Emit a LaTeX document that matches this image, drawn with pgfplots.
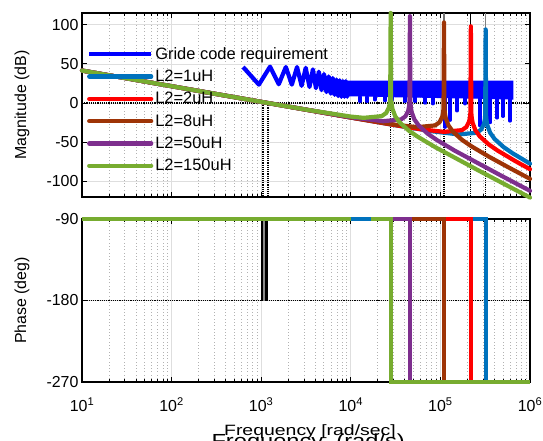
\documentclass[border=0pt]{standalone}
\usepackage{graphicx}
\usepackage{pgfplots}
\pgfplotsset{compat=1.18}
\usepackage{fontspec}
\setmainfont{Liberation Sans}
\definecolor{gcblue}{RGB}{0,0,255}
\definecolor{cA}{RGB}{0,114,189}
\definecolor{cB}{RGB}{255,0,0}
\definecolor{cC}{RGB}{158,52,6}
\definecolor{cD}{RGB}{126,47,142}
\definecolor{cE}{RGB}{119,172,48}
\pgfplotsset{
  bodestyle/.style={
    scale only axis, width=448bp,
    xmin=1, xmax=6,
    xtick={1,2,3,4,5,6},
    minor xtick={1.301,1.477,1.602,1.699,1.778,1.845,1.903,1.954,
                 2.301,2.477,2.602,2.699,2.778,2.845,2.903,2.954,
                 3.301,3.477,3.602,3.699,3.778,3.845,3.903,3.954,
                 4.301,4.477,4.602,4.699,4.778,4.845,4.903,4.954,
                 5.301,5.477,5.602,5.699,5.778,5.845,5.903,5.954},
    tick align=inside,
    major tick length=5bp, minor tick length=3bp,
    xmajorgrids, xminorgrids, ymajorgrids,
    major grid style={black!13, line width=0.7bp},
    minor grid style={black!30, dash pattern=on 0.7bp off 2.6bp, line width=0.7bp},
    axis line style={line width=1.3bp},
    every tick/.style={black, line width=0.8bp},
    tick label style={font=\fontsize{16}{19}\selectfont},
    /pgf/number format/assume math mode=true,
    clip=false,
    unbounded coords=jump,
  },
  curve/.style={line width=4.2bp, line cap=round, line join=round},
}
\begin{document}
\begin{tikzpicture}
% ---------- magnitude ----------
\begin{axis}[bodestyle, height=184bp, at={(0,0)}, anchor=north west,
  ymin=-120, ymax=115, ytick={-100,-50,0,50,100}, xticklabels={},
  legend style={at={(0.011,0.825)}, anchor=north west, draw=none, fill=none,
    font=\fontsize{16.5}{19}\selectfont, row sep=5.3bp, inner sep=0pt,
    nodes={inner sep=2bp}},
  legend cell align=left,
  legend image code/.code={\draw[#1] (0bp,0bp) -- (62bp,0bp);},
]
% margin lines
\addplot[black, densely dotted, line width=1.2bp, forget plot] coordinates {(1,0)(6,0)};
\addplot[black, densely dotted, line width=1.2bp, forget plot] coordinates {
 (3.02,0)(3.02,-120)(3.02,nan)
 (3.075,0)(3.075,-120)(3.075,nan)
 (4.445,0)(4.445,-120)(4.445,nan)
 (4.66,0)(4.66,-120)(4.66,nan)
 (5.04,0)(5.04,-120)(5.04,nan)
 (5.34,0)(5.34,-120)(5.34,nan)
 (5.505,0)(5.505,-120)};
% grid code requirement
\addplot[gcblue, line width=4.2bp, line join=round] coordinates {
 (2.798,46)(2.974,23.5)(3.099,46.5)(3.196,24)(3.275,46)(3.342,23.5)(3.400,46)
 (3.451,22)(3.497,45)(3.539,20.5)(3.577,43)(3.611,19)(3.643,40)(3.673,16.5)
 (3.701,37)(3.728,14)(3.753,34)(3.776,12)(3.798,32)(3.819,10.5)(3.840,30)
 (3.859,9)(3.877,29)(3.895,8)(3.912,28)(3.929,8)(3.944,28)(3.960,8)(3.974,28)};
\addlegendentry{Gride code requirement}
\addplot[fill=gcblue, draw=gcblue, line width=1bp, forget plot] coordinates {
 (3.96,28)(5.81,28)(5.81,5)(5.5,6)(5.0,7)(4.5,8)(4.2,9)(3.96,9)};
\addplot[gcblue, line width=3.2bp, line cap=round, forget plot] coordinates {
 (4.103,8)(4.103,2)(4.103,nan)
 (4.181,8)(4.181,2)(4.181,nan)
 (4.270,8)(4.270,4)(4.270,nan)
 (4.382,8)(4.382,3)(4.382,nan)
 (4.460,8)(4.460,4)(4.460,nan)
 (4.605,8)(4.605,2)(4.605,nan)
 (4.717,8)(4.717,2)(4.717,nan)
 (4.828,7)(4.828,0)(4.828,nan)
 (4.917,7)(4.917,-1)(4.917,nan)
 (5.051,7)(5.051,-31)(5.051,nan)
 (5.107,7)(5.107,-22)(5.107,nan)
 (5.185,7)(5.185,-10)(5.185,nan)
 (5.275,7)(5.275,-1)(5.275,nan)
 (5.442,6)(5.442,-29)(5.442,nan)
 (5.554,6)(5.554,-25)(5.554,nan)
 (5.632,6)(5.632,-19)(5.632,nan)
 (5.699,6)(5.699,-17)(5.699,nan)
 (5.777,6)(5.777,-23)};
% thin lines above peaks
\addplot[black!55, line width=1.2bp, forget plot] coordinates {(5.04,103)(5.04,115)};
\addplot[black, line width=1bp, forget plot] coordinates {(5.34,98)(5.34,115)};
\addplot[black!50, line width=1.5bp, forget plot] coordinates {(5.505,94)(5.505,115)};
% L2 curves
\addplot[cA, curve] coordinates {
 (1,41.5)(2,21.5)(3,1.5)(4,-18.5)(4.5,-28.4)(4.9,-35.95)(5.205,-40.1)(5.405,-37.9)
 (5.455,-33.9)(5.485,-27.1)(5.495,-21.5)(5.5,-15.6)(5.505,94)(5.51,-16.0)(5.515,-22.3)
 (5.525,-28.7)(5.555,-37.9)(5.605,-45.9)(5.705,-56.2)(5.805,-64.1)(6,-77.4)};
\addlegendentry{L2=1uH}
\addplot[cB, curve] coordinates {
 (1,41.5)(2,21.5)(3,1.5)(4,-18.5)(4.5,-28.3)(4.8,-33.75)(5.04,-36.8)(5.24,-34.6)
 (5.29,-30.6)(5.32,-23.8)(5.33,-18.2)(5.335,-12.3)(5.34,98)(5.345,-12.7)(5.35,-19.0)
 (5.36,-25.4)(5.39,-34.6)(5.44,-42.6)(5.54,-52.9)(5.64,-60.8)(5.84,-74.4)(6,-84.5)};
\addlegendentry{L2=2uH}
\addplot[cC, curve] coordinates {
 (1,41.5)(2,21.5)(3,1.5)(4,-18.4)(4.5,-27.75)(4.74,-30.8)(4.94,-28.6)(4.99,-24.6)
 (5.02,-17.8)(5.03,-12.2)(5.035,-6.3)(5.04,103)(5.045,-6.7)(5.05,-13.0)(5.06,-19.4)
 (5.09,-28.6)(5.14,-36.6)(5.24,-46.9)(5.34,-54.8)(5.54,-68.4)(5.74,-80.9)(6,-96.8)};
\addlegendentry{L2=8uH}
\addplot[cD, curve] coordinates {
 (1,41.5)(2,21.5)(3,1.5)(4,-18.1)(4.36,-23.2)(4.56,-21.0)(4.61,-17.0)(4.64,-10.2)
 (4.65,-4.6)(4.655,1.3)(4.66,111)(4.665,0.9)(4.67,-5.4)(4.68,-11.8)(4.71,-21.0)
 (4.76,-29.0)(4.86,-39.3)(4.96,-47.2)(5.16,-60.8)(5.66,-91.6)(6,-112.1)};
\addlegendentry{L2=50uH}
\addplot[cE, curve] coordinates {
 (1,41.5)(2,21.5)(3,1.5)(3.5,-8.4)(4,-17.3)(4.145,-18.9)(4.345,-16.7)(4.395,-12.7)
 (4.425,-5.9)(4.435,-0.3)(4.44,5.6)(4.445,115)(4.45,5.2)(4.455,-1.1)(4.465,-7.5)
 (4.495,-16.7)(4.545,-24.7)(4.645,-35.0)(4.745,-42.9)(4.945,-56.5)(5.445,-87.3)(6,-120.7)};
\addlegendentry{L2=150uH}
\end{axis}
% ---------- phase ----------
\begin{axis}[bodestyle, height=163bp, at={(0,-206bp)}, anchor=north west,
  ymin=-270, ymax=-90, ytick={-270,-180,-90},
  xticklabels={10\textsuperscript{1},10\textsuperscript{2},10\textsuperscript{3},10\textsuperscript{4},10\textsuperscript{5},10\textsuperscript{6}},
  xticklabel style={yshift=-12bp},
]
\addplot[black, densely dotted, line width=1.2bp] coordinates {(1,-180)(6,-180)};
\addplot[black!45, line width=3bp] coordinates {(3.035,-90)(3.035,-180)};
\addplot[black, line width=1.8bp] coordinates {(3.01,-90)(3.01,-180)};
\addplot[black, line width=2.6bp] coordinates {(3.062,-90)(3.062,-180)};
\addplot[cA, line width=4.2bp] coordinates {(1,-90)(5.505,-90)(5.505,-270)(6,-270)};
\addplot[cB, line width=4.2bp] coordinates {(1,-90)(5.34,-90)(5.34,-270)(6,-270)};
\addplot[cC, line width=4.2bp] coordinates {(1,-90)(5.04,-90)(5.04,-270)(6,-270)};
\addplot[cD, line width=4.2bp] coordinates {(1,-90)(4.66,-90)(4.66,-270)(6,-270)};
\addplot[cE, line width=4.2bp] coordinates {(1,-90)(4.445,-90)(4.445,-270)(6,-270)};
\addplot[cA, line width=4.2bp] coordinates {(4.0,-90)(4.225,-90)};
\end{axis}
% labels
\node[rotate=90, font=\fontsize{16}{19}\selectfont] at (-60bp,-92bp) {Magnitude (dB)};
\node[rotate=90, font=\fontsize{16}{19}\selectfont] at (-60bp,-287.5bp) {Phase (deg)};
\node[font=\fontsize{19}{22}\selectfont, anchor=base west] at (126bp,-434bp) {\scalebox{1.25}[1]{Frequency\ \ (rad/s)}};
\node[font=\fontsize{15}{18}\selectfont, anchor=base] at (228bp,-422bp) {\scalebox{1.3}[1]{Frequency [rad/sec]}};
\pgfresetboundingbox
\useasboundingbox (-82bp,13bp) rectangle (461bp,-428bp);
\end{tikzpicture}
\end{document}
